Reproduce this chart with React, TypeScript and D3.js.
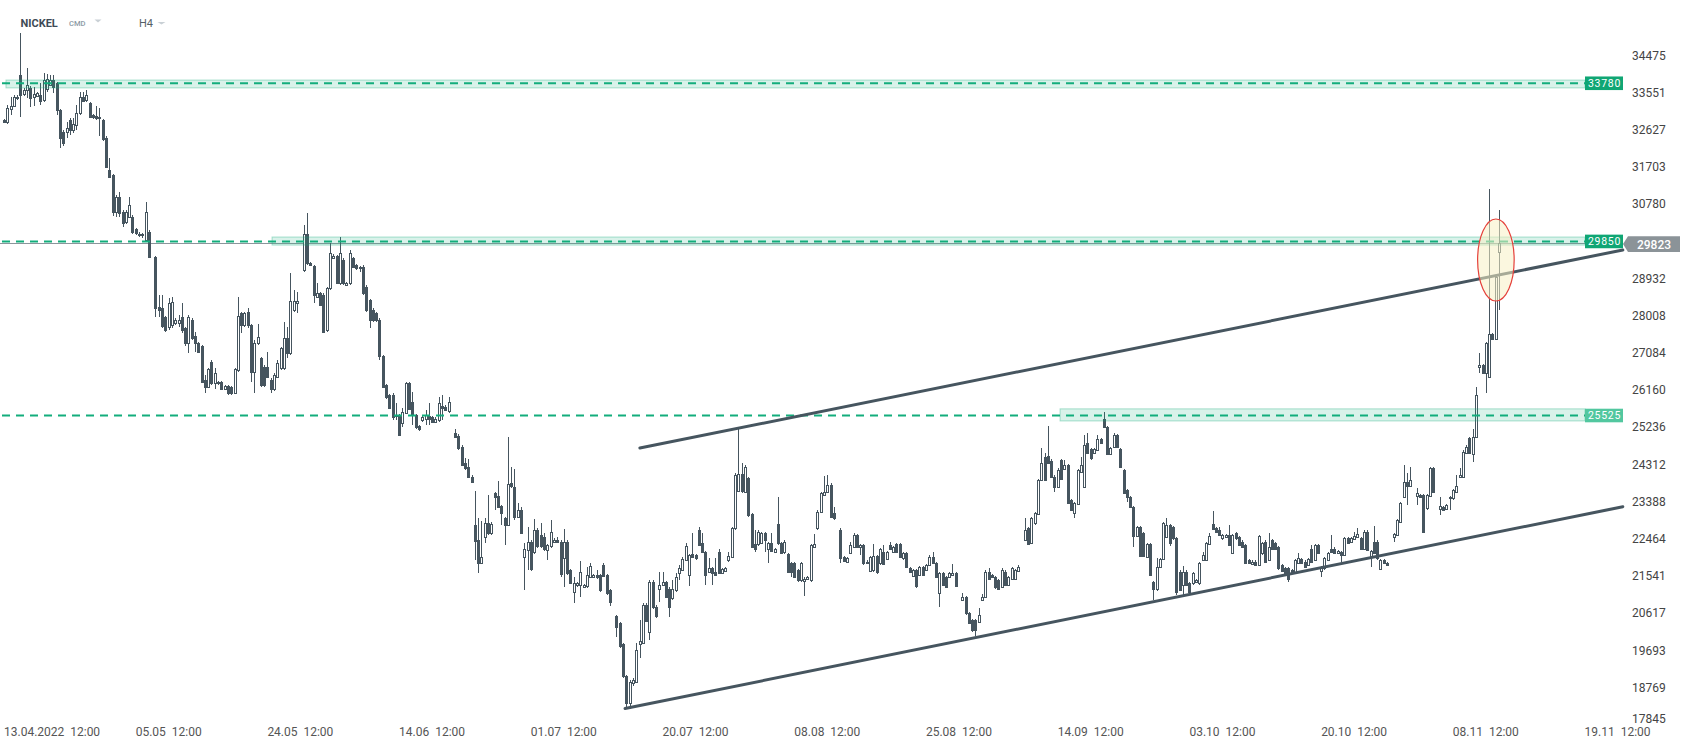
import React from "react";
import * as d3 from "d3";

type Candle = [number, number, number, number] | null; // open, high, low, close

// H4 candles, 13.04 – late May
const CANDLES_APR_JUN: Candle[] = [
  [32870,32890,32800,32820],[32830,33245,32780,33155],[33135,33445,32995,33215],[33215,33485,33195,33445],
  [33445,33485,33365,33405],[33990,35025,32940,33490],[33515,33665,33465,33615],[33615,34150,33415,33740],
  [33655,33715,33195,33405],[33445,33695,33215,33515],[33465,33575,33435,33535],[33490,33785,33240,33345],
  [33365,34040,33325,33865],[33635,34010,33575,33885],[33740,33995,33715,33865],[33865,33990,33535,33695],
  [33795,33815,32995,33115],[33115,33135,32160,32420],[32570,32620,32220,32290],[32580,32830,32410,32660],
  [32870,32910,32495,32620],[32620,32910,32540,32760],[32740,33240,32620,33045],[33035,33575,33000,33445],
  [33445,33575,33315,33345],[33365,33615,33315,33490],[33285,33325,32910,32940],[32995,33015,32900,32940],
  [32970,33215,32870,32910],[32910,33155,32470,32950],[32870,32900,32350,32390],[32410,32470,31675,31710],
  [31625,31915,31425,31455],[31500,31525,30470,30590],[30590,31005,30460,30960],[30960,31085,30460,30560],
  [30590,30630,30210,30310],[30340,30630,30280,30590],[30460,30960,30430,30750],[30460,30510,30030,30090],
  [30150,30180,30020,30060],[30010,30080,29970,30030],[30030,30050,29940,30000],[29890,30840,29870,30590],
  [30090,30130,29440,29470],null,
  [29470,29490,27980,28185],[28225,28515,27980,28145],[28185,28515,27700,27750],[27980,28000,27600,27650],
  [27730,28435,27650,28315],[27770,28475,27690,28335],[27820,27950,27770,27900],[27820,28020,27730,27900],
  [27980,28325,27570,27650],[27690,27730,27250,27320],[27320,28020,27070,27970],[27900,27950,27400,27440],
  [27500,27610,27110,27320],[27320,27350,27070,27110],[27250,27280,26325,26365],[26405,26535,26075,26235],
  [26235,26715,26205,26675],[26865,26905,26285,26325],[26325,26695,26195,26575],[26365,26385,26285,26325],
  [26365,26385,26155,26195],[26195,26285,26155,26255],[26255,26285,26040,26075],[26235,26255,26040,26075],
  [26075,26715,26050,26675],[26655,28475,26615,28000],[28065,28105,27570,27770],[27770,28105,27730,28065],
  [28105,28185,27690,27770],[27770,27810,26365,26615],[26615,27400,26075,27320],[27320,27810,27280,27480],
  [26955,26985,26235,26285],[26735,26775,26235,26285],[26735,27110,26455,26485],[26405,26445,26075,26175],
  [26175,26575,26135,26525],[26485,26905,26455,26825],[26695,27230,26655,27190],[26695,27860,26655,27440],
  [27440,27730,26945,27070],[27070,29060,27035,28375],[28145,28645,28095,28375],[28315,28605,28065,28375],
  null,
  [29140,30260,29100,30030],[30030,30550,29270,29310],[29310,29340,29240,29270],[29240,29270,28315,28525],
  [28475,28815,28460,28565],[28565,28605,28245,28275],[28525,28565,27570,27610],[27650,28725,27610,28685],
  [28685,29810,28645,29560],[29440,29540,29420,29500],[29500,29520,28795,28825],[28815,29960,28775,29560],
  [29390,29440,28775,28815],[28775,28845,28745,28815],[28815,29640,28775,29560],[29430,29460,29190,29220],
  [29260,29290,29140,29180],[29180,29240,29090,29220],[29220,29260,28525,28565],[28725,28765,28095,28145],
  [28395,28425,27700,27900],[28145,28195,27850,27900],[28065,28095,27850,27900],[27900,27950,26905,27005],
  [27005,27035,26205,26235],
];

// June – early July
const CANDLES_JUN_JUL: Candle[] = [
  [26285,26315,25940,25980],[26030,26055,25680,25700],[26030,26075,25410,25490],[25530,25830,25410,25540],
  [25530,25560,25020,25045],[25330,25700,25240,25620],[25580,26355,25560,26345],[26345,26355,25660,25680],
  [25850,26115,25280,25530],[25530,25560,25190,25240],[25260,25290,25140,25180],[25410,25510,25360,25480],
  [25450,25660,25290,25530],[25510,25830,25290,25430],[25480,25510,25340,25370],[25370,25480,25340,25450],
  [25410,25990,25360,25830],[25760,26030,25410,25700],[25740,25780,25630,25660],[25640,25980,25580,25870],
  null,
  [25080,25180,24970,24990],[25020,25060,24670,24710],[24750,24790,24260,24300],[24340,24460,24170,24210],
  [24250,24440,23975,24005],[24005,24035,23855,23885],
  [22810,23655,21935,22410],[22430,22970,21615,21865],[21865,22910,21835,22015],[22510,22970,22360,22850],
  [22850,23555,22560,22600],[22600,22880,22560,22830],[23595,23635,23175,23495],[23525,23905,23225,23255],
  [23275,23305,22810,23105],[22970,23000,22310,22810],[22810,25000,22780,23815],[23845,24250,23725,23775],
  [23745,24190,22930,23010],[23010,23345,22980,23175],[23175,23255,22580,22610],[22005,22360,21185,22220],
  [22180,22760,21685,22390],[22390,22430,21665,21705],[22140,22960,22080,22680],[22680,22730,22230,22280],
  [22560,22850,22230,22280],[22500,22600,22160,22200],[22180,22340,21935,22310],[22280,22930,22230,22620],
  [22390,22480,22360,22430],[22430,22510,22360,22390],[22390,22420,21515,21585],[21975,22700,21255,22390],
  [22390,22420,21565,21605],[21685,21705,21355,21375],[21145,21515,20860,21355],[21305,21385,21265,21365],
  [21315,21915,21020,21645],[21255,21335,21235,21315],[21285,21755,21235,21565],[21515,21865,21485,21785],
  [21515,21585,21485,21565],[21565,21685,21465,21505],[21565,21595,21135,21185],[21815,21855,21505,21535],
  [21565,21595,21070,21105],[21185,21215,20790,20900],
  null,
  [20540,20570,20020,20270],[20370,20400,19750,19800],[19850,19880,19005,19055],[19055,19085,18285,18375],
  [18375,18945,18245,18915],[18875,19005,18805,18955],[18915,19870,18885,19700],[19850,20440,19490,19910],
  [19870,20860,19850,20810],
];

// July – late August
const CANDLES_JUL_AUG: Candle[] = [
  [20810,20860,20390,20420],[20150,21435,19950,21395],[21395,21435,20710,20760],[20770,20810,20490,20540],
  [21225,21645,20900,21305],[21305,21645,21285,21395],[21395,21425,20990,21020],[21225,21255,20520,20770],
  [20980,21435,20940,21225],[21185,21605,21135,21515],[21605,21815,21435,21725],[21685,22015,21655,21955],
  [21935,22350,21905,22280],[21565,22080,21285,22065],[22080,22600,21985,22015],[22060,22090,21935,21975],
  [22680,22750,22280,22310],[22350,22600,22110,22140],[22140,22170,21315,21565],[21645,21975,21605,21725],
  [21725,21755,21315,21605],[21645,21975,21535,21565],[22140,22200,21585,21615],[21615,21735,21585,21705],
  [21665,21765,21635,21725],[21935,22140,21885,22035],[22015,22760,21985,22720],[22720,24090,22680,24050],
  [23655,25200,23635,24070],[24070,24340,23595,23655],[23635,24300,23595,24250],[23965,24005,23010,23050],
  [23070,23095,22230,22260],[22330,22680,22140,22220],[22330,22680,22280,22640],[22350,22640,22320,22610],
  [22610,22640,22140,22430],[22220,22380,21865,22350],[22350,22600,22130,22160],[22140,22230,22110,22200],
  [22830,23495,22310,22350],[22360,22390,22080,22110],[22140,22430,22080,22390],[22080,22110,21615,21645],
  [21865,21895,21515,21645],[21865,21895,21485,21515],[21685,21715,21385,21435],[21435,21875,21385,21865],
  [21415,21505,21040,21475],[21475,21545,21445,21515],[21435,22330,21385,22310],[22260,22580,22230,22330],
  [22720,23175,22680,23135],[23135,23635,23105,23605],[23555,24025,23525,23635],[23635,24055,23605,23805],
  [23805,23845,22980,23010],[23095,23255,22930,22970],
  null,
  [22680,22720,21855,21975],[22005,22045,21885,21915],[21895,22005,21865,21975],[22110,22390,22080,22300],
  [22260,22600,22230,22560],[22560,22590,22230,22260],[22260,22330,22065,22300],[22300,22330,21815,21855],
  [21855,21925,21825,21895],[21665,22045,21635,22015],[21685,22330,21645,22035],[22035,22065,21585,21645],
  [21855,22230,21815,22200],[22140,22300,21805,21835],[21955,22170,21925,22140],[22300,22390,22180,22220],
  [22140,22290,22110,22260],[22330,22360,22110,22140],[22330,22360,21975,22005],[21975,22130,21945,22100],
  [22100,22130,21735,21765],[21725,21755,21615,21645],[21535,21715,21505,21685],[21685,21715,21235,21285],
  [21565,21795,21535,21765],[21765,21795,21535,21565],[21685,21835,21655,21805],[21805,22065,21775,22015],
  [22015,22140,21825,21855],[21855,21885,21485,21515],[21105,21645,20760,21615],[21615,21645,21285,21315],
  [21515,21545,21235,21265],[21515,21635,21485,21605],[21565,21835,21535,21605],[21605,21635,21255,21285],
  null,
  [20940,21105,20910,21010],[21010,21040,20580,20610],[20610,20650,20340,20360],
];

// late August – mid October
const CANDLES_AUG_OCT: Candle[] = [
  [20440,20470,20140,20190],[20440,20470,20050,20190],[20400,20730,20370,20570],[20940,21085,20910,21020],
  [21020,21685,20990,21645],[21645,21725,21445,21475],[21565,21595,21485,21515],[21515,21545,21225,21255],
  [21435,21465,21195,21225],[21265,21725,21235,21685],[21645,21675,21285,21315],[21315,21545,21285,21515],
  [21475,21755,21445,21725],[21475,21715,21445,21685],[21665,21805,21635,21765],
  null,
  [22430,22970,22400,22680],[22720,22750,22300,22330],[22350,23000,22320,22970],[22860,23125,22810,23095],
  [23075,23955,23045,23925],[23925,24710,23895,24340],[24500,24590,23895,23925],[24520,25260,24320,24350],
  [24400,24440,23965,23995],[24005,24035,23635,23745],[23745,24210,23715,24170],[24420,24450,23915,23945],
  [24190,24420,24160,24300],[24300,24330,23325,23355],[23425,23455,23145,23175],[23105,23375,22970,23345],
  [23325,24200,23295,24170],[24130,24500,24100,24300],[23745,25050,23715,24790],[24840,25080,24560,24590],
  [24690,24720,24430,24460],[24590,24720,24560,24690],[24670,25050,24640,24940],[24940,24970,24810,24840],
  [25450,25620,25210,25230],[25230,25260,24540,24570],[24570,24740,24540,24710],[24750,25080,24720,25040],
  [25040,25060,24720,24750],[24690,24720,24220,24250],[24170,24200,23575,23605],[23675,23705,23385,23505],
  [23505,23535,23225,23255],[23255,23285,22250,22530],[22530,22780,22500,22750],[22750,22780,22005,22035],
  [22600,22630,22005,22035],[22005,22360,21975,22330],[22330,22360,21535,21565],[21395,21425,20940,21205],
  [21205,21975,21175,21765],[21765,21985,21735,21955],[21955,22890,21925,22860],[22510,22970,22480,22810],
  [22810,22840,22280,22350],[22760,22790,22440,22470],[22470,22500,21070,21145],[21645,21675,21155,21185],
  [21315,21785,21070,21645],[21645,21675,21285,21315],[21365,21395,21115,21145],[21355,21635,21325,21605],
  [21395,21465,21365,21435],[21355,21895,21325,21865],[21935,22140,21905,22065],[21935,22380,21905,22350],
  [22330,22600,22300,22530],[22830,23155,22670,22700],[22720,22750,22610,22640],[22680,22760,22530,22560],
  [22470,22590,22440,22560],[22510,22590,22480,22560],[22560,22800,22280,22310],[22110,22590,22080,22560],
  [22600,22630,22440,22470],[22510,22540,22280,22310],[22390,22420,22230,22260],[22300,22330,21825,21855],
  [21935,21965,21825,21855],[21835,21925,21805,21895],[21895,21925,21785,21815],[21815,22560,21785,22530],
  [22100,22380,22070,22350],[22390,22420,21865,21895],[21935,22610,21905,22260],[22430,22460,22190,22220],
  [22350,22380,22190,22220],[22260,22290,21695,21725],[21805,21835,21635,21665],[21725,21755,21535,21565],
];

// mid October – 11 November
const CANDLES_OCT_NOV: Candle[] = [
  [21725,21755,21385,21475],[21685,21715,21575,21605],[21605,21965,21575,21935],[21855,22100,21825,21975],
  [21955,21985,21835,21865],[21895,21925,21735,21765],[21805,21985,21775,21955],[22220,22300,21865,21895],
  [21935,22340,21905,22310],[22310,22340,22075,22100],[21665,21795,21515,21765],[21725,22005,21695,21975],
  [21935,22130,21905,22100],[22220,22550,22110,22140],[22220,22250,22080,22110],[22100,22190,22075,22160],
  [22140,22170,21895,22065],[22065,22500,22035,22470],[22470,22500,22320,22350],[22390,22500,22360,22470],
  [22450,22640,22420,22530],[22500,22720,22470,22580],[22470,22500,22190,22220],[22220,22680,22190,22640],
  [22640,22670,22150,22180],[22015,22190,21765,22160],[22390,22780,22075,22100],[22390,22420,21945,21975],
  [21705,21965,21675,21935],[21935,21965,21825,21855],[21855,21885,21775,21805],
  null,
  [22500,22610,22390,22580],[22560,22960,22530,22930],[22890,23385,22860,23355],[23505,24290,23475,23885],
  [23885,24090,23305,23775],[23775,24250,23745,23925],
  null,
  [23525,23715,23305,23595],[23555,23585,23475,23505],[23555,23585,22610,22640],[23215,23585,23185,23555],
  [23525,24250,23495,24210],[24210,24240,23605,23635],
  null,
  [23195,23505,23050,23275],[23255,23285,23145,23175],[23195,23335,23165,23305],[23505,23535,23175,23465],
  [23465,23705,23435,23675],[23635,24055,23605,23775],[23995,24210,23965,24055],[24005,24660,23975,24630],
  [24590,24780,24560,24750],[24960,24990,24560,24590],[24570,25200,24380,25000],[24990,26225,24960,26040],
  [26725,27070,26575,26785],[26785,26815,26545,26575],[26575,27350,26075,27320],[26485,31165,26455,27550],
  [27550,27580,27390,27420],[27420,28995,27390,28965],[29590,30630,28150,29823],
];

const X_TICK_INDEX = [10, 50, 90, 130, 170, 210, 250, 290, 330, 370, 410, 450, 490];
const X_TICK_LABELS = [
  "13.04.2022  12:00", "05.05  12:00", "24.05  12:00", "14.06  12:00", "01.07  12:00",
  "20.07  12:00", "08.08  12:00", "25.08  12:00", "14.09  12:00", "03.10  12:00",
  "20.10  12:00", "08.11  12:00", "19.11  12:00",
];
const Y_TICKS = [34475, 33551, 32627, 31703, 30780, 28932, 28008, 27084, 26160, 25236,
  24312, 23388, 22464, 21541, 20617, 19693, 18769, 17845];

const LEVELS = [33780, 29850, 25525];
const LEVEL_BAND_TOP = [33860, 29960, 25690];
const LEVEL_BAND_BOTTOM = [33665, 29760, 25390];
const LEVEL_BAND_START = [0.6, 81.4, 320.7];
const LEVEL_BOX_LIGHT = [false, false, true];
const LAST_PRICE = 29823;

// trend lines: [index, price] pairs
const TREND_UPPER: [number, number][] = [[193.1, 24717], [491.6, 29638]];
const TREND_LOWER: [number, number][] = [[188.6, 18244], [491.6, 23259]];
// highlight ellipse: index range, price range
const HIGHLIGHT_INDEX = [447.5, 458.6];
const HIGHLIGHT_PRICE = [28370, 30408];

const DARK = "#46555f";
const GREEN = "#13ad7c";
const FONT = "Roboto, 'Noto Sans', sans-serif";

export default function App() {
  const W = 1691, H = 749;
  const candles: Candle[] = [
    ...CANDLES_APR_JUN, ...CANDLES_JUN_JUL, ...CANDLES_JUL_AUG, ...CANDLES_AUG_OCT, ...CANDLES_OCT_NOV,
  ];
  const x = d3.scaleLinear().domain([0, 490]).range([4, 4 + 490 * 3.293]);
  const y = d3.scaleLinear().domain([17845, 34475]).range([724.6, 55.3]);
  const boxX0 = 1585, boxX1 = 1623;
  const line = d3.line<[number, number]>().x(d => x(d[0])).y(d => y(d[1]));

  const lastY = y(LAST_PRICE);
  const ex0 = x(HIGHLIGHT_INDEX[0]), ex1 = x(HIGHLIGHT_INDEX[1]);
  const ey0 = y(HIGHLIGHT_PRICE[1]), ey1 = y(HIGHLIGHT_PRICE[0]);

  return (
    <svg width={W} height={H} style={{ position: "absolute", left: 0, top: 0, display: "block", background: "#fff" }}
      fontFamily={FONT}>
      <rect x={0} y={0} width={W} height={H} fill="#fff" />

      {/* header */}
      <text x={20.5} y={27.3} fontSize={11} fontWeight={700} fill="#3e4b56">NICKEL</text>
      <text x={69} y={26} fontSize={7.6} fontWeight={500} fill="#8d9ba6">CMD</text>
      <path d="M94.5,19.5 L101.5,19.5 L98,22.5 Z" fill="#c9d0d5" />
      <text x={139} y={27.3} fontSize={11} fill="#555f67">H4</text>
      <path d="M157.5,22 L165.5,22 L161.5,24.5 Z" fill="#c9d0d5" />

      {/* current price line */}
      <line x1={0} x2={boxX1} y1={Math.round(lastY) + 0.5} y2={Math.round(lastY) + 0.5} stroke="#8b959b" strokeWidth={1} />

      {/* candles */}
      <g shapeRendering="crispEdges">
        {candles.map((d, i) => {
          if (!d) return null;
          const [o, h, l, c] = d;
          const cx = Math.round(x(i));
          const yh = Math.round(y(h)), yl = Math.round(y(l));
          const yt = Math.round(y(Math.max(o, c))), yb = Math.round(y(Math.min(o, c)));
          const up = c >= o;
          return (
            <g key={i}>
              <line x1={cx + 0.5} x2={cx + 0.5} y1={yh} y2={yl} stroke={DARK} strokeWidth={1} />
              <rect x={cx - 0.5} y={yt + 0.5} width={2} height={Math.max(yb - yt, 1)}
                fill={up ? "#fff" : DARK} stroke={DARK} strokeWidth={1} />
            </g>
          );
        })}
      </g>

      {/* level bands and dashed lines */}
      {LEVELS.map((lv, k) => {
        const bx = x(LEVEL_BAND_START[k]);
        const bt = y(LEVEL_BAND_TOP[k]), bb = y(LEVEL_BAND_BOTTOM[k]);
        const ly = y(lv);
        return (
          <g key={lv}>
            <rect x={bx} y={bt} width={boxX0 - bx} height={bb - bt}
              fill="rgba(19,173,124,0.16)" stroke="rgba(19,173,124,0.35)" strokeWidth={1} />
            <line x1={2} x2={boxX0} y1={ly} y2={ly} stroke={GREEN} strokeWidth={2} strokeDasharray="8 6" />
            <rect x={boxX0} y={ly - 6.8} width={boxX1 - boxX0} height={13.6}
              fill={LEVEL_BOX_LIGHT[k] ? "#52c79f" : "#10a674"} />
            <text x={(boxX0 + boxX1) / 2 + 0.5} y={ly + 3.7} fontSize={10.5} fill="#fff" textAnchor="middle"
              letterSpacing={0.7}>{lv}</text>
          </g>
        );
      })}

      {/* trend lines */}
      <path d={line(TREND_UPPER) || ""} fill="none" stroke={DARK} strokeWidth={3} strokeLinecap="round" />
      <path d={line(TREND_LOWER) || ""} fill="none" stroke={DARK} strokeWidth={3} strokeLinecap="round" />

      {/* highlight ellipse */}
      <ellipse cx={(ex0 + ex1) / 2} cy={(ey0 + ey1) / 2} rx={(ex1 - ex0) / 2} ry={(ey1 - ey0) / 2}
        fill="rgba(247,241,196,0.55)" stroke="#e5403a" strokeWidth={1.2} />

      {/* last price box */}
      <path d={`M${boxX1},${lastY + 1.5} L${boxX1 + 5},${lastY - 6.4} L1680,${lastY - 6.4} L1680,${lastY + 9.4} L${boxX1 + 5},${lastY + 9.4} Z`}
        fill="#8b9398" />
      <text x={1654} y={lastY + 6} fontSize={12} fontWeight={500} fill="#fff" textAnchor="middle">{LAST_PRICE}</text>

      {/* y axis labels */}
      {Y_TICKS.map((t) => {
        const ty = Math.min(y(t), 719);
        return (
          <text key={t} x={1632} y={ty + 4.3} fontSize={12} fill="#444">{t}</text>
        );
      })}

      {/* x axis labels */}
      {X_TICK_INDEX.map((ti, k) => (
        <text key={ti} x={k === 0 ? 4 : x(ti)} y={736} fontSize={12} fill="#555"
          textAnchor={k === 0 ? "start" : "middle"} style={{ whiteSpace: "pre" }}>{X_TICK_LABELS[k]}</text>
      ))}
    </svg>
  );
}
